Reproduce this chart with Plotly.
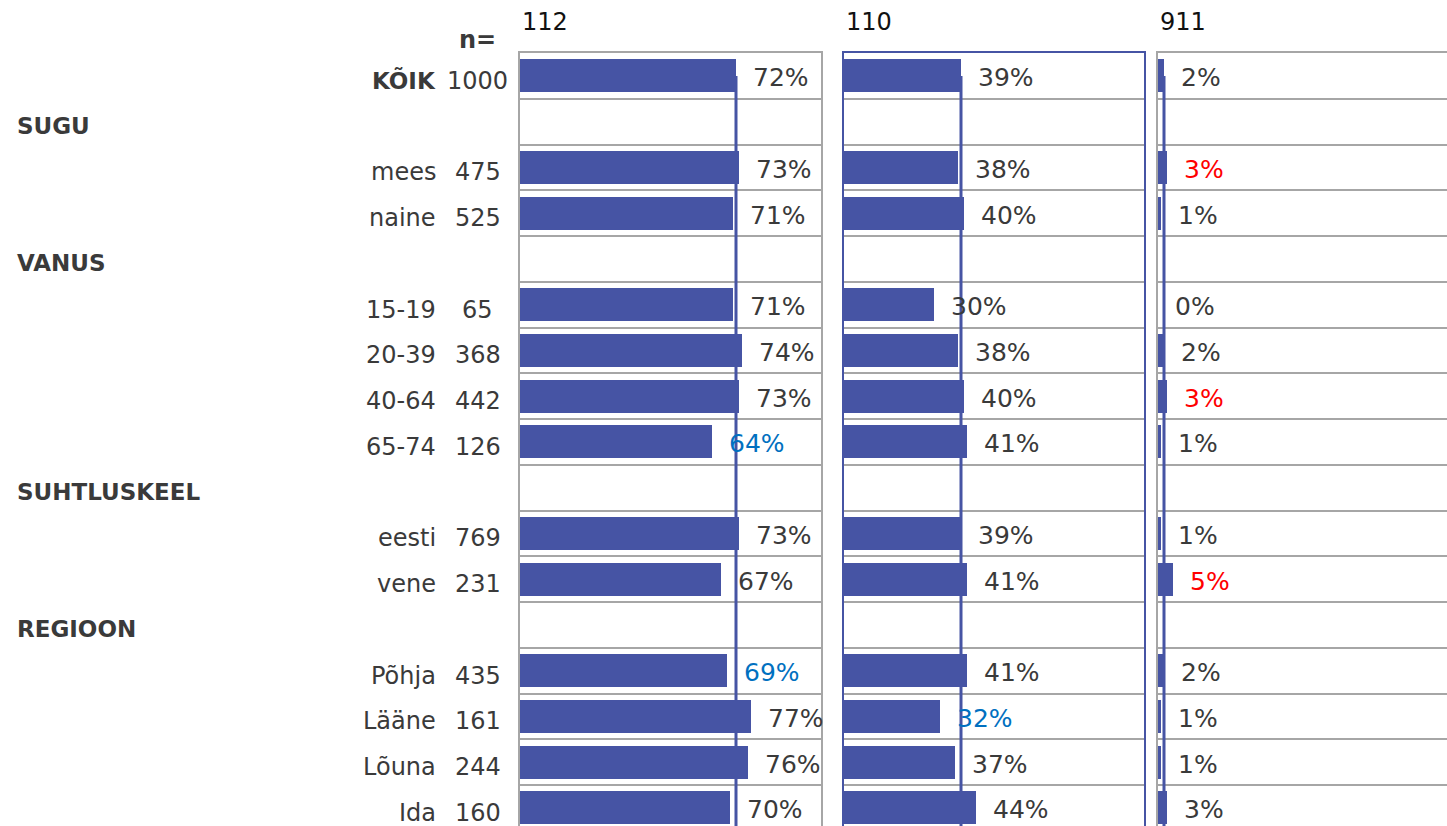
import plotly.graph_objects as go

W, H = 1447, 826

# rows top -> bottom, "" = spacer row that carries a group heading
ROWS = ["KÕIK", "", "mees", "naine", "", "15-19", "20-39", "40-64", "65-74", "",
        "eesti", "vene", "", "Põhja", "Lääne", "Lõuna", "Ida"]
GROUPS = ["", "SUGU", "", "", "VANUS", "", "", "", "", "SUHTLUSKEEL",
          "", "", "REGIOON", "", "", "", ""]
N = [1000, None, 475, 525, None, 65, 368, 442, 126, None, 769, 231, None, 435, 161, 244, 160]

COLS = ["112", "110", "911"]
P1 = [72, None, 73, 71, None, 71, 74, 73, 64, None, 73, 67, None, 69, 77, 76, 70]
P2 = [39, None, 38, 40, None, 30, 38, 40, 41, None, 39, 41, None, 41, 32, 37, 44]
P3 = [2, None, 3, 1, None, 0, 2, 3, 1, None, 1, 5, None, 2, 1, 1, 3]
# significance vs total: "+" higher, "-" lower
S1 = ["", "", "", "", "", "", "", "", "-", "", "", "", "", "-", "", "", ""]
S2 = ["", "", "", "", "", "", "", "", "", "", "", "", "", "", "-", "", ""]
S3 = ["", "", "+", "", "", "", "", "+", "", "", "", "+", "", "", "", "", ""]

BLUE = "#4654A4"
GRID = "#A6A6A6"
TXT = "#3A3A3A"
SIG = {"": TXT, "+": "#FF0000", "-": "#0070C0"}
FONT = "Verdana, DejaVu Sans, sans-serif"

PX_PER_PCT = 3.0
domains = [(520, 821), (844, 1144), (1158, W)]
borders = [GRID, BLUE, GRID]
top_px = 53

fig = go.Figure()
annotations = []
series = [(P1, S1), (P2, S2), (P3, S3)]
ypos = list(range(len(ROWS)))

for k, ((vals, sig), (x0, x1), border) in enumerate(zip(series, domains, borders)):
    sfx = "" if k == 0 else str(k + 1)
    xa, ya = "x" + sfx, "y" + sfx
    fig.add_trace(go.Bar(
        x=vals, y=ypos, orientation="h", width=0.72,
        marker=dict(color=BLUE, line=dict(width=0)),
        xaxis=xa, yaxis=ya, showlegend=False, hoverinfo="skip",
    ))
    # reference line at the total value
    fig.add_trace(go.Scatter(
        x=[vals[0], vals[0]], y=[0, len(ROWS)], mode="lines",
        line=dict(color=BLUE, width=3), xaxis=xa, yaxis=ya,
        showlegend=False, hoverinfo="skip",
    ))
    for i, (v, s) in enumerate(zip(vals, sig)):
        if v is None:
            continue
        annotations.append(dict(
            x=v, y=i, xref=xa, yref=ya, text=f"{v}%", showarrow=False,
            xanchor="left", xshift=15, yshift=-2,
            font=dict(family=FONT, size=25, color=SIG[s]),
        ))
    annotations.append(dict(
        x=x0 / W, y=1 - 22 / H, xref="paper", yref="paper", text=COLS[k],
        showarrow=False, xanchor="left", yanchor="middle",
        font=dict(family=FONT, size=24, color="#111111"),
    ))
    fig.update_layout(**{
        "xaxis" + sfx: dict(
            domain=[x0 / W, x1 / W], range=[0, (x1 - x0) / PX_PER_PCT],
            side="top", anchor=ya, showline=True, linecolor=border, linewidth=2,
            showgrid=False, zeroline=False, showticklabels=False, ticks="",
        ),
        "yaxis" + sfx: dict(
            domain=[0, 1 - top_px / H], range=[-0.5 + (H - top_px) / 45.75, -0.5],
            anchor=xa, showline=True, mirror=(k < 2), linecolor=border, linewidth=2,
            tickvals=[i - 0.5 for i in range(len(ROWS) + 1)],
            showgrid=True, gridcolor=GRID, gridwidth=2,
            zeroline=False, showticklabels=False, ticks="",
        ),
    })

for i, (lab, n, grp) in enumerate(zip(ROWS, N, GROUPS)):
    if lab:
        annotations.append(dict(
            x=438 / W, y=i, xref="paper", yref="y", text=f"<b>{lab}</b>" if i == 0 else lab,
            showarrow=False, xanchor="right", yshift=-5,
            font=dict(family=FONT, size=24 if i else 23, color=TXT),
        ))
    if n is not None:
        annotations.append(dict(
            x=478 / W, y=i, xref="paper", yref="y", text=str(n),
            showarrow=False, xanchor="center", yshift=-5,
            font=dict(family=FONT, size=24, color=TXT),
        ))
    if grp:
        annotations.append(dict(
            x=15 / W, y=i, xref="paper", yref="y", text=f"<b>{grp}</b>",
            showarrow=False, xanchor="left", yshift=-4,
            font=dict(family=FONT, size=23, color=TXT),
        ))

annotations.append(dict(
    x=477 / W, y=1 - 40 / H, xref="paper", yref="paper", text="<b>n=</b>",
    showarrow=False, xanchor="center", yanchor="middle",
    font=dict(family=FONT, size=24, color=TXT),
))

fig.update_layout(
    width=W, height=H, margin=dict(l=0, r=0, t=0, b=0),
    paper_bgcolor="white", plot_bgcolor="white",
    annotations=annotations, bargap=0,
)

fig.write_html("out.html", config={"displayModeBar": False},
               post_script="document.body.style.margin='0';")
